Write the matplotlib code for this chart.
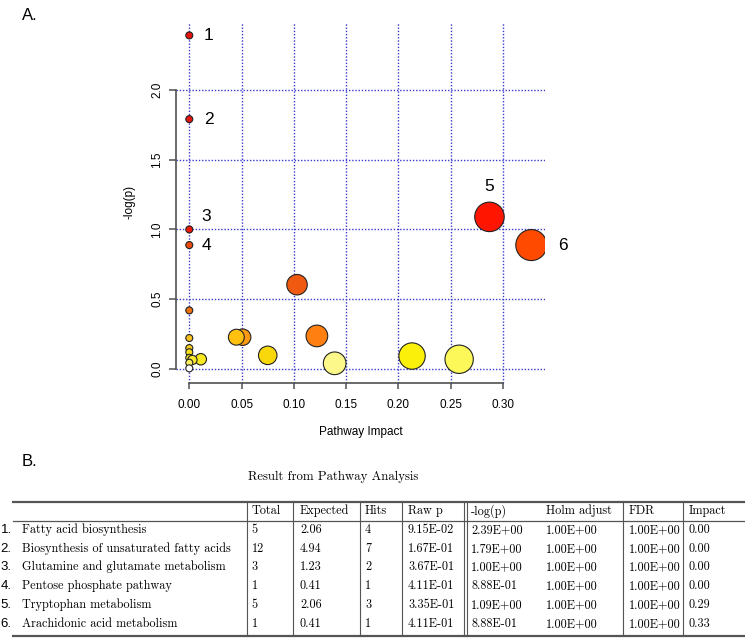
import numpy as np
import matplotlib
matplotlib.use("Agg")
import matplotlib.pyplot as plt

# ---- panel A: pathway impact vs -log(p) ----
impact = [0.0, 0.0, 0.0, 0.0, 0.287, 0.327, 0.103, 0.0, 0.122, 0.051, 0.045,
          0.075, 0.139, 0.213, 0.258, 0.011, 0.0, 0.0, 0.0, 0.0, 0.003, 0.0, 0.0]
neglogp = [2.39, 1.79, 1.00, 0.888, 1.09, 0.888, 0.604, 0.42, 0.237, 0.228, 0.228,
           0.098, 0.041, 0.093, 0.070, 0.070, 0.222, 0.15, 0.12, 0.08, 0.065, 0.045, 0.005]
point_colors = ['#e8120c', '#e31410', '#ee1808', '#ee4a10', '#ff1500', '#ff4a00',
                '#f05a10', '#ee7010', '#ff8010', '#ff9a10', '#ffc010', '#f8d80a',
                '#fdf88a', '#fbf00a', '#fcf85a', '#f8e820', '#f8c020', '#f8d020',
                '#f8e020', '#f8e830', '#f8e830', '#fff060', '#ffffff']

labels = ['1', '2', '3', '4', '5', '6']
label_offsets = [(14, 0), (14, 0), (12, 9), (12, 0), (0, 22), (23, 0)]

# ---- panel B: result table ----
pathways = ['Fatty acid biosynthesis', 'Biosynthesis of unsaturated fatty acids',
            'Glutamine and glutamate metabolism', 'Pentose phosphate pathway',
            'Tryptophan metabolism', 'Arachidonic acid metabolism']
total = ['5', '12', '3', '1', '5', '1']
expected = ['2.06', '4.94', '1.23', '0.41', '2.06', '0.41']
hits = ['4', '7', '2', '1', '3', '1']
raw_p = ['9.15E-02', '1.67E-01', '3.67E-01', '4.11E-01', '3.35E-01', '4.11E-01']
log_p = ['2.39E+00', '1.79E+00', '1.00E+00', '8.88E-01', '1.09E+00', '8.88E-01']
holm = ['1.00E+00'] * 6
fdr = ['1.00E+00'] * 6
impact_str = ['0.00', '0.00', '0.00', '0.00', '0.29', '0.33']
headers = ['Total', 'Expected', 'Hits', 'Raw p', '-log(p)', 'Holm adjust', 'FDR', 'Impact']

W, H = 745, 638
fig = plt.figure(figsize=(W / 100, H / 100), dpi=100)

ax = fig.add_axes([176 / W, 1 - 382.7 / H, (545 - 176) / W, (382.7 - 22) / H])
ax.set_xlim(-0.0127, 0.3401)
ax.set_ylim(-0.098, 2.486)

grid_style = dict(color='#3a3ad0', ls=(0, (1, 1.3)), lw=1, zorder=0)
for xv in np.arange(0, 0.301, 0.05):
    ax.axvline(xv, **grid_style)
for yv in np.arange(0, 2.01, 0.5):
    ax.axhline(yv, **grid_style)

diam_px = 7 + 42 * np.sqrt(np.array(impact))
sizes = (diam_px * 0.72) ** 2
ax.scatter(impact, neglogp, s=sizes, c=point_colors, edgecolors='#222222',
           linewidths=0.8, zorder=3)

for i, lab in enumerate(labels):
    ax.annotate(lab, (impact[i], neglogp[i]), xytext=label_offsets[i],
                textcoords='offset points', ha='center', va='center',
                fontsize=12.5, family='Liberation Sans')

for side in ['top', 'right']:
    ax.spines[side].set_visible(False)
for side in ['left', 'bottom']:
    ax.spines[side].set_color('#505050')
    ax.spines[side].set_linewidth(1.2)
ax.spines['left'].set_bounds(0, 2.0)
ax.spines['bottom'].set_bounds(0, 0.30)
ax.set_xticks(np.arange(0, 0.301, 0.05))
ax.set_xticklabels(['%.2f' % v for v in np.arange(0, 0.301, 0.05)])
ax.set_yticks(np.arange(0, 2.01, 0.5))
ax.set_yticklabels(['%.1f' % v for v in np.arange(0, 2.01, 0.5)], rotation=90, va='center')
ax.tick_params(axis='x', length=4, width=1.1, color='#505050', pad=8, labelsize=8.5)
ax.tick_params(axis='y', length=5, width=1.1, color='#505050', pad=4, labelsize=8.5)
for t in ax.get_xticklabels() + ax.get_yticklabels():
    t.set_family('Liberation Sans')
ax.set_xlabel('Pathway Impact', family='Liberation Sans', fontsize=8.5)
ax.set_ylabel('-log(p)', family='Liberation Sans', fontsize=8.5)
ax.xaxis.set_label_coords(0.5, -0.12)
ax.yaxis.set_label_coords(-0.111, 0.5)

# overlay in pixel units for panel letters and the table
tx = fig.add_axes([0, 0, 1, 1], zorder=-1)
tx.set_xlim(0, W)
tx.set_ylim(H, 0)
tx.axis('off')

tx.text(22, 15, 'A.', fontsize=12, family='Liberation Sans', va='center')
tx.text(22, 462, 'B.', fontsize=12, family='Liberation Sans', va='center')
tx.text(333, 477, 'Result from Pathway Analysis', fontsize=9.2, family='cmr10',
        ha='center', va='center')

line_c = '#555555'
tbl_top, tbl_head, tbl_bot = 501.7, 520.7, 635.7
tx.plot([12.7, W], [tbl_top, tbl_top], color=line_c, lw=1.6)
tx.plot([12.7, W], [tbl_head, tbl_head], color=line_c, lw=0.9)
tx.plot([12.7, W], [tbl_bot, tbl_bot], color=line_c, lw=1.6)
for vx in [246.7, 292.7, 360, 401.7, 464.3, 467.0, 623.3, 683.3]:
    tx.plot([vx, vx], [tbl_top, tbl_bot], color=line_c, lw=0.8)

tfs = 8.8
col_x = [251.5, 300, 365, 408, 471, 546, 629, 688.5]
head_y = 511
for cx, h in zip(col_x, headers):
    tx.text(cx, head_y, h, fontsize=tfs, family='cmr10', va='center')

row_y = [530, 548.7, 567, 585.7, 604.7, 624]
cols = [total, expected, hits, raw_p, log_p, holm, fdr, impact_str]
for r, ry in enumerate(row_y):
    tx.text(0.5, ry, '%d.' % (r + 1), fontsize=9.5, family='Liberation Sans', va='center')
    tx.text(22.5, ry, pathways[r], fontsize=tfs, family='cmr10', va='center')
    for cx, col in zip(col_x, cols):
        tx.text(cx, ry, col[r], fontsize=tfs, family='cmr10', va='center')

fig.savefig('out.png', dpi=100)
